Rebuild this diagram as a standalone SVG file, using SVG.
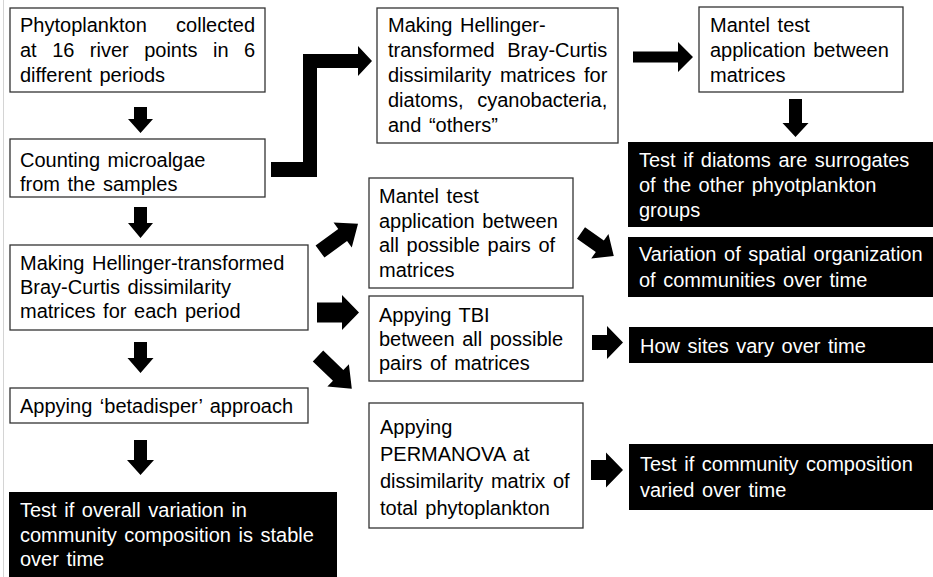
<svg xmlns="http://www.w3.org/2000/svg" width="933" height="577" viewBox="0 0 933 577">
<style>
.bx{fill:#fff;stroke:#333;stroke-width:1.3}
.bk{fill:#000}
text{font-family:"Liberation Sans",Arial,sans-serif;font-size:20px;fill:#000;word-spacing:2px}
.w{fill:#fff}
.ar{fill:#000}
</style>
<rect x="0" y="0" width="933" height="577" fill="#fff"/>
<line x1="3.5" y1="0" x2="3.5" y2="577" stroke="#d4d4d4" stroke-width="1"/>

<g id="node-collect">
<rect class="bx" x="10" y="8" width="255" height="84"/>
<text x="20" y="32">Phytoplankton</text>
<text x="255" y="32" text-anchor="end">collected</text>
<text x="20" y="57" style="word-spacing:9.9px">at 16 river points in 6</text>
<text x="20" y="82">different periods</text>
</g>

<g id="node-counting">
<rect class="bx" x="10" y="139" width="255" height="58"/>
<text x="20" y="167">Counting microalgae</text>
<text x="20" y="191">from the samples</text>
</g>

<g id="node-hellinger-groups">
<rect class="bx" x="377" y="8" width="241" height="135"/>
<text x="388" y="32">Making Hellinger-</text>
<text x="388" y="57" style="word-spacing:7px">transformed Bray-Curtis</text>
<text x="388" y="82" style="word-spacing:3px">dissimilarity matrices for</text>
<text x="388" y="107" style="word-spacing:8px">diatoms, cyanobacteria,</text>
<text x="388" y="132">and “others”</text>
</g>

<g id="node-mantel-groups">
<rect class="bx" x="699" y="7" width="204" height="85"/>
<text x="710" y="32">Mantel test</text>
<text x="710" y="57">application between</text>
<text x="710" y="82">matrices</text>
</g>

<g id="node-surrogates">
<rect class="bk" x="628" y="142" width="305" height="85"/>
<text class="w" x="639" y="167">Test if diatoms are surrogates</text>
<text class="w" x="639" y="192">of the other phyotplankton</text>
<text class="w" x="639" y="217">groups</text>
</g>

<g id="node-spatial">
<rect class="bk" x="628" y="237" width="305" height="60"/>
<text class="w" x="639" y="261">Variation of spatial organization</text>
<text class="w" x="639" y="287">of communities over time</text>
</g>

<g id="node-sites">
<rect class="bk" x="629" y="327" width="304" height="36"/>
<text class="w" x="640" y="353">How sites vary over time</text>
</g>

<g id="node-hellinger-period">
<rect class="bx" x="10" y="245" width="298" height="85"/>
<text x="20" y="270">Making Hellinger-transformed</text>
<text x="20" y="294">Bray-Curtis dissimilarity</text>
<text x="20" y="318">matrices for each period</text>
</g>

<g id="node-mantel-pairs">
<rect class="bx" x="369" y="178" width="204" height="110"/>
<text x="379" y="203">Mantel test</text>
<text x="379" y="228">application between</text>
<text x="379" y="252">all possible pairs of</text>
<text x="379" y="277">matrices</text>
</g>

<g id="node-tbi">
<rect class="bx" x="369" y="296" width="214" height="85"/>
<text x="379" y="322">Appying TBI</text>
<text x="379" y="346">between all possible</text>
<text x="379" y="370">pairs of matrices</text>
</g>

<g id="node-betadisper">
<rect class="bx" x="10" y="388" width="298" height="35"/>
<text x="20" y="413">Appying ‘betadisper’ approach</text>
</g>

<g id="node-permanova">
<rect class="bx" x="369" y="403" width="214" height="125"/>
<text x="380" y="434">Appying</text>
<text x="380" y="461">PERMANOVA at</text>
<text x="380" y="488">dissimilarity matrix of</text>
<text x="380" y="515">total phytoplankton</text>
</g>

<g id="node-composition">
<rect class="bk" x="629" y="444" width="304" height="66"/>
<text class="w" x="640" y="471">Test if community composition</text>
<text class="w" x="640" y="497">varied over time</text>
</g>

<g id="node-stable">
<rect class="bk" x="9" y="492" width="328" height="85"/>
<text class="w" x="20" y="517">Test if overall variation in</text>
<text class="w" x="20" y="542">community composition is stable</text>
<text class="w" x="20" y="566">over time</text>
</g>

<g id="connectors" class="ar">
<polygon points="134,107 147,107 147,119 153,119 140.5,133 128,119 134,119"/>
<polygon points="134,207 147,207 147,223 153,223 140.5,238 128,223 134,223"/>
<polygon points="134,342 147,342 147,358 153.5,358 140.5,373 127.5,358 134,358"/>
<polygon points="134,440 147,440 147,460 154,460 140.5,475 127,460 134,460"/>
<polygon points="789,99 802,99 802,123 808.5,123 795.5,137 782.5,123 789,123"/>
<polygon points="633,51.5 678,51.5 678,42 693,57 678,72 678,62.5 633,62.5"/>
<polygon points="317,302.5 342,302.5 342,295 359,312.5 342,330 342,322.5 317,322.5"/>
<polygon points="592,335 607,335 607,326 623,342.5 607,359 607,350 592,350"/>
<polygon points="591,460 606,460 606,452.5 623,470 606,487.5 606,480 591,480"/>
<polygon points="271,162 303,162 303,54 358,54 358,46 372,61 358,76 358,68 317,68 317,177 271,177"/>
<polygon transform="translate(320,251.5) rotate(-36)" points="0,-7.5 28,-7.5 28,-15.5 47,0 28,15.5 28,7.5 0,7.5"/>
<polygon transform="translate(318,356) rotate(44)" points="0,-7.5 28,-7.5 28,-15.5 47,0 28,15.5 28,7.5 0,7.5"/>
<polygon transform="translate(581,233) rotate(35)" points="0,-7 23,-7 23,-15 40,0 23,15 23,7 0,7"/>
</g>
</svg>
